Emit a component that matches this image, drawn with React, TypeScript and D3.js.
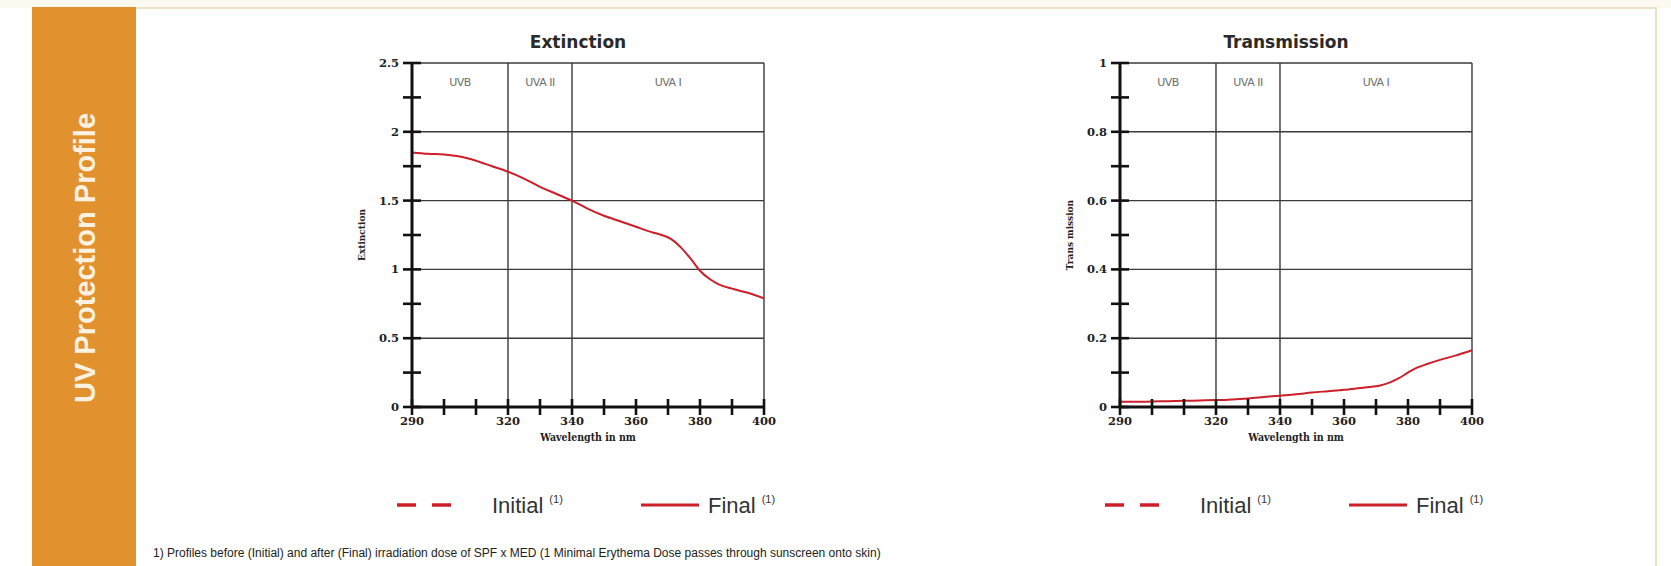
import * as d3 from "d3";

// wavelength grid (nm) and the "Final" curves
const wavelengths = [290, 295, 300, 305, 310, 315, 320, 325, 330, 335, 340, 345, 350, 355, 360, 365, 368, 371, 374, 377, 380, 383, 386, 390, 395, 400];
const extinctionFinal = [1.85, 1.84, 1.835, 1.82, 1.79, 1.75, 1.71, 1.66, 1.6, 1.55, 1.5, 1.44, 1.39, 1.35, 1.31, 1.27, 1.25, 1.22, 1.16, 1.08, 0.99, 0.93, 0.89, 0.86, 0.83, 0.79];
const transmissionFinal = [0.015, 0.015, 0.016, 0.017, 0.018, 0.019, 0.02, 0.022, 0.025, 0.029, 0.033, 0.037, 0.042, 0.046, 0.05, 0.055, 0.058, 0.062, 0.07, 0.083, 0.1, 0.115, 0.125, 0.137, 0.15, 0.165];

const xTicks = [290, 300, 310, 320, 330, 340, 350, 360, 370, 380, 390, 400];
const xTickLabels = [290, 320, 340, 360, 380, 400];
const bandEdges = [290, 320, 340, 400];
const bandNames = ["UVB", "UVA II", "UVA I"];

const extinctionMajor = [0, 0.5, 1, 1.5, 2, 2.5];
const extinctionMinor = [0.25, 0.75, 1.25, 1.75, 2.25];
const transmissionMajor = [0, 0.2, 0.4, 0.6, 0.8, 1];
const transmissionMinor = [0.1, 0.3, 0.5, 0.7, 0.9];

const W = 1671;
const H = 566;
const RED = "#cc1f2a";
const ORANGE = "#e2912f";
const GRID = "#3a3a3a";
const SERIF = "'DejaVu Serif', serif";
const SERIF_NARROW = "'DejaVu Serif Condensed', 'DejaVu Serif', serif";
const SANS = "'Liberation Sans', Arial, sans-serif";

const TOP = 63;
const BOTTOM = 407;
const PLOT_W = 352;

interface PanelProps {
  x0: number;
  title: string;
  yLabel: string;
  major: number[];
  minor: number[];
  values: number[];
}

function Panel({ x0, title, yLabel, major, minor, values }: PanelProps) {
  const x = d3.scaleLinear().domain([290, 400]).range([x0, x0 + PLOT_W]);
  const y = d3
    .scaleLinear()
    .domain([0, major[major.length - 1]])
    .range([BOTTOM, TOP]);
  const line = d3
    .line<number>()
    .x((_, i) => x(wavelengths[i]))
    .y((d) => y(d))
    .curve(d3.curveMonotoneX);

  const cx = (x(290) + x(400)) / 2;

  return (
    <g>
      <text x={cx - 10} y={48} textAnchor="middle" fontFamily="'DejaVu Sans', sans-serif" fontWeight="bold" fontSize={17} fill="#2a2a2a">
        {title}
      </text>

      {/* horizontal grid */}
      {major.slice(1).map((v) => (
        <line key={"h" + v} x1={x(290)} x2={x(400)} y1={y(v)} y2={y(v)} stroke={GRID} strokeWidth={1.4} />
      ))}
      {/* band separators + right border */}
      {bandEdges.slice(1).map((b) => (
        <line key={"v" + b} x1={x(b)} x2={x(b)} y1={y.range()[1]} y2={y.range()[0]} stroke={GRID} strokeWidth={1.4} />
      ))}
      {bandNames.map((n, i) => (
        <text
          key={n}
          x={x((bandEdges[i] + bandEdges[i + 1]) / 2)}
          y={86}
          textAnchor="middle"
          fontFamily="'DejaVu Sans', sans-serif"
          fontSize={11}
          letterSpacing={-0.5}
          fill="#6e6e6e"
        >
          {n}
        </text>
      ))}

      {/* curve */}
      <path d={line(values) ?? ""} fill="none" stroke={RED} strokeWidth={2} />

      {/* axes */}
      <line x1={x(290)} x2={x(290)} y1={TOP} y2={BOTTOM} stroke="#111" strokeWidth={3} />
      <line x1={x(290)} x2={x(400)} y1={BOTTOM} y2={BOTTOM} stroke="#111" strokeWidth={3} />
      {major.concat(minor).map((v) => (
        <line key={"yt" + v} x1={x(290) - 9} x2={x(290) + 9} y1={y(v)} y2={y(v)} stroke="#111" strokeWidth={2.6} />
      ))}
      {xTicks.map((t) => (
        <line key={"xt" + t} x1={x(t)} x2={x(t)} y1={BOTTOM - 8} y2={BOTTOM + 8} stroke="#111" strokeWidth={2.6} />
      ))}
      {major.map((v) => (
        <text key={"yl" + v} x={x(290) - 13} y={y(v)} dy="0.35em" textAnchor="end" fontFamily={SERIF} fontWeight="bold" fontSize={11.5} fill="#222">
          {String(v)}
        </text>
      ))}
      {xTickLabels.map((t) => (
        <text key={"xl" + t} x={x(t)} y={425} textAnchor="middle" fontFamily={SERIF} fontWeight="bold" fontSize={11.5} fill="#222">
          {t}
        </text>
      ))}
      <text x={cx} y={441} textAnchor="middle" fontFamily={SERIF_NARROW} fontWeight="bold" fontSize={10.5} fill="#222">
        Wavelength in nm
      </text>
      <text
        transform={`translate(${x(290) - 47},${(TOP + BOTTOM) / 2}) rotate(-90)`}
        textAnchor="middle"
        fontFamily={SERIF_NARROW}
        fontWeight="bold"
        fontSize={10}
        fill="#222"
      >
        {yLabel}
      </text>

      {/* legend */}
      <g fontFamily={SANS} fill="#333">
        <line x1={x0 - 15} x2={x0 + 4} y1={505} y2={505} stroke={RED} strokeWidth={3.5} />
        <line x1={x0 + 20} x2={x0 + 39} y1={505} y2={505} stroke={RED} strokeWidth={3.5} />
        <text x={x0 + 80} y={513} fontSize={22}>
          Initial
          <tspan dx={6} dy={-10} fontSize={11}>(1)</tspan>
        </text>
        <line x1={x0 + 229} x2={x0 + 287} y1={505} y2={505} stroke={RED} strokeWidth={3} />
        <text x={x0 + 296} y={513} fontSize={22}>
          Final
          <tspan dx={6} dy={-10} fontSize={11}>(1)</tspan>
        </text>
      </g>
    </g>
  );
}

export default function App() {
  return (
    <svg
      width={W}
      height={H}
      viewBox={`0 0 ${W} ${H}`}
      style={{ position: "absolute", left: 0, top: 0, display: "block", background: "#fff" }}
    >
      <rect x={0} y={0} width={W} height={8} fill="#fcf9f0" />
      <line x1={32} x2={1657} y1={8} y2={8} stroke="#ece2c6" strokeWidth={2} />
      <line x1={1656} x2={1656} y1={8} y2={H} stroke="#ece2c6" strokeWidth={2} />

      <rect x={32} y={7} width={104} height={H - 7} fill={ORANGE} />
      <text
        transform={`translate(85,258) rotate(-90)`}
        textAnchor="middle"
        dy="0.36em"
        fontFamily={SANS}
        fontWeight="bold"
        fontSize={29}
        fill="#fdf1e2"
      >
        UV Protection Profile
      </text>

      <Panel x0={412} title="Extinction" yLabel="Extinction" major={extinctionMajor} minor={extinctionMinor} values={extinctionFinal} />
      <Panel x0={1120} title="Transmission" yLabel="Trans mission" major={transmissionMajor} minor={transmissionMinor} values={transmissionFinal} />

      <text x={153} y={557} fontFamily={SANS} fontSize={12} fill="#222">
        1) Profiles before (Initial) and after (Final) irradiation dose of SPF x MED (1 Minimal Erythema Dose passes through sunscreen onto skin)
      </text>
    </svg>
  );
}
